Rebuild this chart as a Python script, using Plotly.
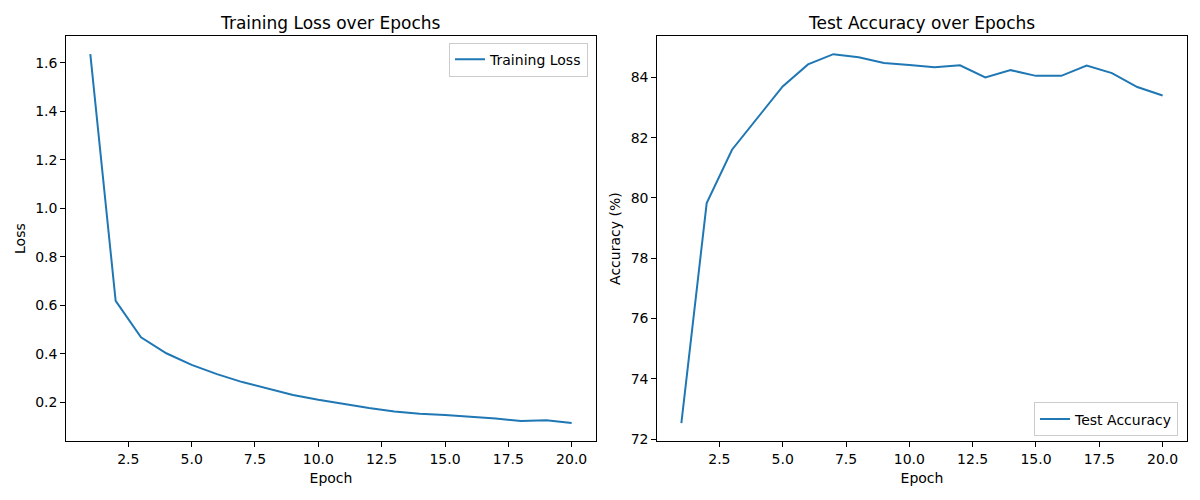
import plotly.graph_objs as go

epochs = list(range(1, 21))
train_loss = [1.636, 0.618, 0.468, 0.402, 0.354, 0.316, 0.283, 0.255, 0.230, 0.210,
              0.192, 0.176, 0.162, 0.152, 0.147, 0.141, 0.133, 0.122, 0.126, 0.114]
test_acc = [72.53, 79.83, 81.60, 82.65, 83.70, 84.43, 84.77, 84.67, 84.48, 84.41,
            84.34, 84.40, 84.00, 84.24, 84.05, 84.05, 84.39, 84.14, 83.68, 83.40]
x_ticks = [2.5, 5.0, 7.5, 10.0, 12.5, 15.0, 17.5, 20.0]
loss_ticks = [0.2, 0.4, 0.6, 0.8, 1.0, 1.2, 1.4, 1.6]
acc_ticks = [72, 74, 76, 78, 80, 82, 84]

BLUE = '#1f77b4'
FONT = 'DejaVu Sans'

# figure is kept 16px smaller than the window so the 8px body margin fits
W, H = 1184, 484
LEFT_DOM = [0.0492, 0.4964]
RIGHT_DOM = [0.5484, 0.9955]
Y_DOM = [0.0950, 0.9421]


def pad(vals, frac=0.05):
    lo, hi = min(vals), max(vals)
    d = (hi - lo) * frac
    return [lo - d, hi + d]


fig = go.Figure()
fig.add_trace(go.Scatter(x=epochs, y=train_loss, mode='lines', name='Training Loss',
                         line=dict(color=BLUE, width=2), xaxis='x', yaxis='y',
                         legend='legend', showlegend=True))
fig.add_trace(go.Scatter(x=epochs, y=test_acc, mode='lines', name='Test Accuracy',
                         line=dict(color=BLUE, width=2), xaxis='x2', yaxis='y2',
                         legend='legend2', showlegend=True))

axis_style = dict(showline=True, linecolor='black', linewidth=1, mirror=True,
                  ticks='outside', ticklen=5, tickcolor='black', showgrid=False,
                  zeroline=False, tickfont=dict(size=14, color='black'))
legend_style = dict(bordercolor='#cccccc', borderwidth=1, bgcolor='white',
                    font=dict(size=14), visible=True)

fig.update_layout(
    width=W, height=H,
    margin=dict(l=0, r=0, t=0, b=0),
    paper_bgcolor='white', plot_bgcolor='white',
    font=dict(family=FONT, color='black'),
    showlegend=True,
    xaxis=dict(domain=LEFT_DOM, range=pad(epochs), tickvals=x_ticks,
               tickformat='.1f', anchor='y',
               title=dict(text='Epoch', font=dict(size=14), standoff=6), **axis_style),
    yaxis=dict(domain=Y_DOM, range=pad(train_loss), tickvals=loss_ticks,
               tickformat='.1f', anchor='x',
               title=dict(text='Loss', font=dict(size=14), standoff=6), **axis_style),
    xaxis2=dict(domain=RIGHT_DOM, range=pad(epochs), tickvals=x_ticks,
                tickformat='.1f', anchor='y2',
                title=dict(text='Epoch', font=dict(size=14), standoff=6), **axis_style),
    yaxis2=dict(domain=Y_DOM, range=pad(test_acc), tickvals=acc_ticks,
                anchor='x2',
                title=dict(text='Accuracy (%)', font=dict(size=14), standoff=6), **axis_style),
    legend=dict(x=0.4899, y=0.9277, xanchor='right', yanchor='top', **legend_style),
    legend2=dict(x=0.9882, y=0.1055, xanchor='right', yanchor='bottom', **legend_style),
    annotations=[
        dict(text='Training Loss over Epochs', x=sum(LEFT_DOM) / 2, y=0.944,
             xref='paper', yref='paper', xanchor='center', yanchor='bottom',
             showarrow=False, font=dict(size=17)),
        dict(text='Test Accuracy over Epochs', x=sum(RIGHT_DOM) / 2, y=0.944,
             xref='paper', yref='paper', xanchor='center', yanchor='bottom',
             showarrow=False, font=dict(size=17)),
    ],
)

fig.write_html('out.html')
